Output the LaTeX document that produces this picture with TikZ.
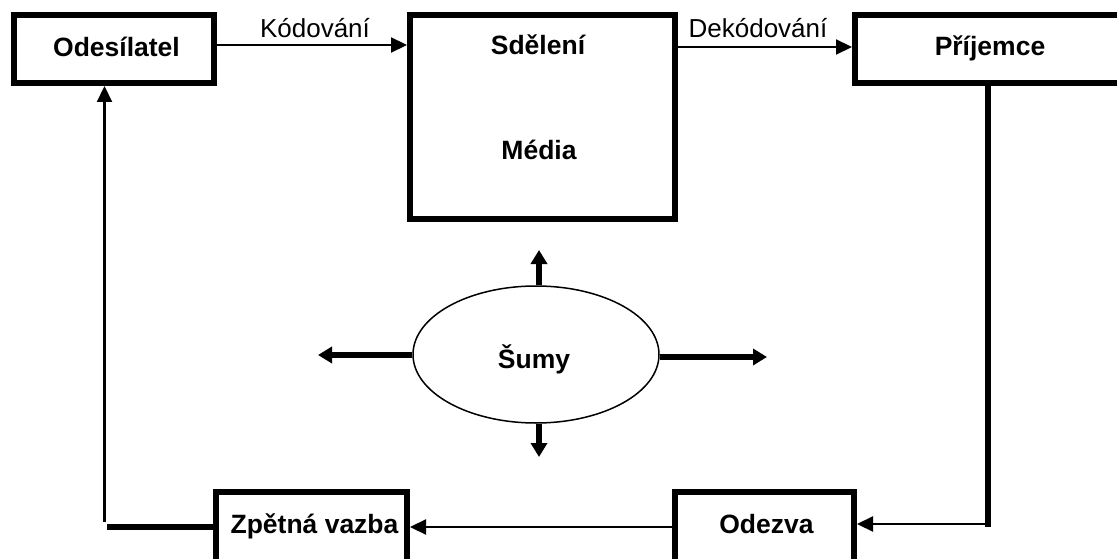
\documentclass[tikz,border=0pt]{standalone}
\usepackage{fontspec}
\setmainfont{Liberation Sans}
\usetikzlibrary{arrows.meta,shapes.geometric}
\begin{document}
\begin{tikzpicture}[x=1pt,y=-1pt,
  box/.style={draw=black,line width=6pt,rectangle,inner sep=0pt,fill=white},
  btxt/.style={font=\bfseries\fontsize{26.5}{30}\selectfont,inner sep=0pt,anchor=base},
  ltxt/.style={font=\fontsize{26}{30}\selectfont,inner sep=0pt,anchor=base},
  arr/.style={draw=black,line width=2.2pt,-{Triangle[length=16pt,width=15pt]}},
  thickline/.style={draw=black,line width=6pt},
  noise/.style={draw=black,line width=5.5pt,-{Triangle[length=14pt,width=16pt]}}]
\path[use as bounding box] (0,0) rectangle (1117,559);
\clip (0,0) rectangle (1117,559);
% boxes
\node[box,minimum width=200.5pt,minimum height=68pt] (ode) at (114,49) {};
\node[box,minimum width=265pt,minimum height=204pt] (sd) at (542.5,117) {};
\node[box,minimum width=266pt,minimum height=68pt] (pri) at (988,49) {};
\node[box,minimum width=179pt,minimum height=70pt] (odz) at (764.5,527) {};
\node[box,minimum width=191pt,minimum height=70pt] (zv) at (311.5,527) {};
\node[draw=black,line width=1.5pt,ellipse,inner sep=0pt,minimum width=246pt,minimum height=137pt] (el) at (536,354.5) {};
% texts
\node[btxt] (odet) at (116.5,57) {Odesílatel};
\node[btxt] (sdt) at (538,55) {Sdělení};
\node[btxt] (medt) at (539,160) {Média};
\node[btxt] (prit) at (990,56) {Příjemce};
\node[btxt] (odzt) at (766.5,533) {Odezva};
\node[btxt] (zvt) at (314.5,533) {Zpětná vazba};
\node[btxt] (sumt) at (534,368) {Šumy};
\node[ltxt] (kod) at (315,38) {Kódování};
\node[ltxt] (dek) at (758,38) {Dekódování};
% connectors
\draw[arr] ([yshift=4pt]ode.east) -- ([yshift=4pt]sd.west |- ode.east);
\draw[arr] ([yshift=2pt]sd.east |- pri.west) -- ([yshift=2pt]pri.west);
\coordinate (rc) at (988,524);
\draw[thickline] (pri.south) -- ([yshift=-3pt]rc);
\draw[arr] (rc) -- (odz.east |- rc);
\draw[arr] (odz.west) -- (zv.east);
\coordinate (lc) at (107,527);
\draw[thickline] (zv.west) -- (lc);
\coordinate (lv) at (104.5,522);
\draw[arr] (lv) -- (lv |- ode.south);
% noise arrows
\coordinate (nu) at (539,250);
\coordinate (nd) at (539,457);
\coordinate (nl) at (318,355);
\coordinate (nr) at (767,357);
\draw[noise] (el.north -| nu) -- (nu);
\draw[noise] (el.south -| nd) -- (nd);
\draw[noise] (el.west |- nl) -- (nl);
\draw[noise] (el.east |- nr) -- (nr);
\end{tikzpicture}
\end{document}
